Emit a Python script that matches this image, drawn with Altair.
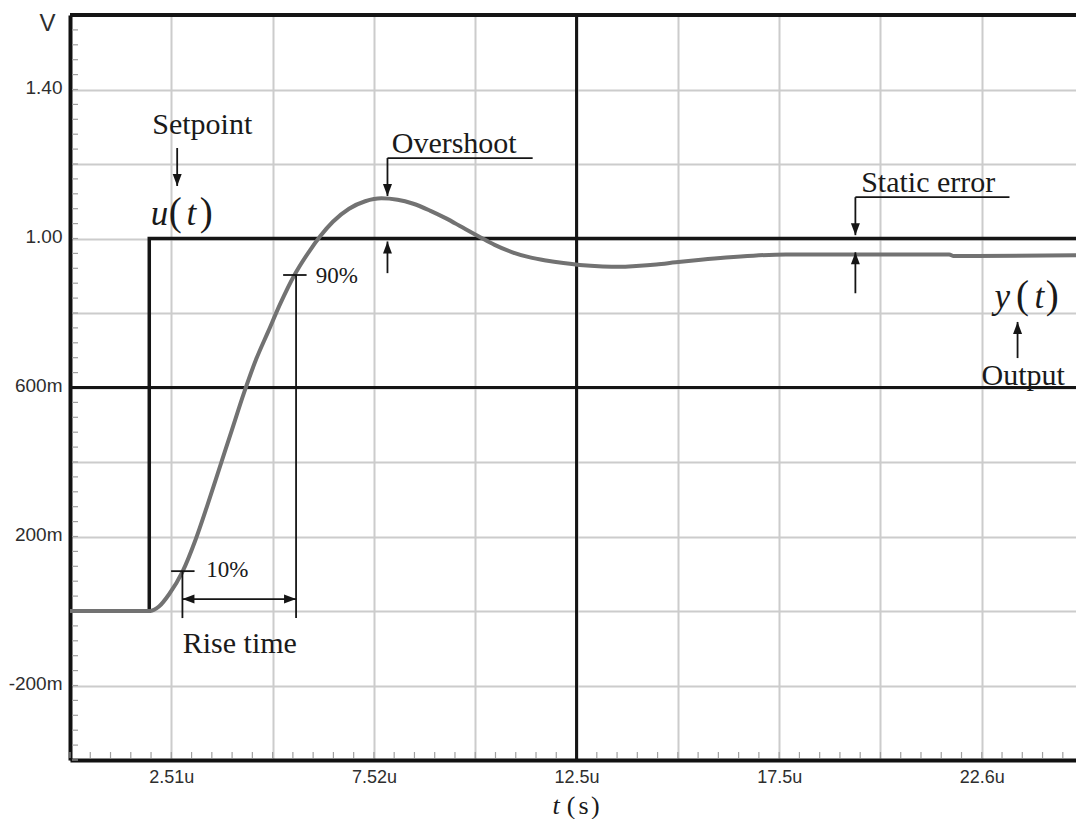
import altair as alt
import pandas as pd

# ---------------- axes ----------------
x_grid = [0.0, 2.505, 5.01, 7.515, 10.02, 12.525, 15.03, 17.535, 20.04, 22.545]
x_label_at = [2.505, 7.515, 12.525, 17.535, 22.545]
x_labels = ["2.51u", "7.52u", "12.5u", "17.5u", "22.6u"]
y_grid = [-0.4, -0.2, 0.0, 0.2, 0.4, 0.6, 0.8, 1.0, 1.2, 1.4, 1.6]
y_label_at = [-0.2, 0.2, 0.6, 1.0, 1.4]
y_labels = ["-200m", "200m", "600m", "1.00", "1.40"]
x_minor = [round(k * 0.501, 4) for k in range(50)]
y_minor = [round(-0.4 + k * 0.04, 4) for k in range(51)]

# ---------------- signals ----------------
t_u = [0.0, 1.96, 1.96, 25.05]
v_u = [0.0, 0.0, 1.0, 1.0]

t_y = [0.0, 1.96, 2.2, 2.45, 2.78, 3.1, 3.4, 3.7, 4.0, 4.3,
       4.6, 4.9, 5.2, 5.55, 5.9, 6.2, 6.5, 6.9, 7.3, 7.7,
       8.1, 8.47, 8.9, 9.3, 9.7, 10.12, 10.5, 10.94, 11.35, 11.77,
       12.2, 12.6, 13.17, 13.6, 14.0, 14.5, 14.98, 15.6, 16.22, 16.9,
       17.7, 21.74, 21.85, 25.05]
v_y = [0.0, 0.0, 0.012, 0.045, 0.105, 0.19, 0.285, 0.385, 0.485, 0.585,
       0.675, 0.75, 0.825, 0.902, 0.963, 1.008, 1.045, 1.08, 1.1, 1.108,
       1.104, 1.094, 1.075, 1.054, 1.03, 1.005, 0.983, 0.963, 0.95, 0.941,
       0.934, 0.929, 0.925, 0.924, 0.926, 0.93, 0.936, 0.943, 0.949, 0.954,
       0.957, 0.957, 0.953, 0.955]

# center lines of the scope screen
center_v = [0.6]
center_t = [12.525]

# ---------------- annotations ----------------
seg_t1 = [2.65, 7.85, 7.85, 7.85, 5.27, 5.59, 2.50, 2.78, 2.78, 19.42, 19.42, 19.42, 23.43]
seg_v1 = [1.243, 1.216, 1.216, 0.907, 0.902, 0.902, 0.107, 0.107, 0.032, 1.111, 1.111, 0.853, 0.679]
seg_t2 = [2.65, 11.44, 7.85, 7.85, 5.85, 5.59, 3.08, 2.78, 5.59, 23.23, 19.42, 19.42, 23.43]
seg_v2 = [1.141, 1.216, 1.114, 0.992, 0.902, -0.019, 0.107, -0.019, 0.032, 1.111, 1.009, 0.963, 0.776]

DOWN = "M0,0L-0.75,-2L0.75,-2Z"
UP = "M0,0L-0.75,2L0.75,2Z"
LEFT = "M0,0L2,-0.75L2,0.75Z"
RIGHT = "M0,0L-2,-0.75L-2,0.75Z"
head_t = [2.65, 7.85, 7.85, 2.78, 5.59, 19.42, 19.42, 23.43]
head_v = [1.141, 1.114, 0.992, 0.032, 0.032, 1.009, 0.963, 0.776]
head_dir = [DOWN, DOWN, UP, LEFT, RIGHT, DOWN, UP, UP]

lab_text = ["Setpoint", "Overshoot", "Static error", "Output", "Rise time", "90%", "10%"]
lab_t = [3.27, 9.50, 21.22, 23.57, 4.20, 6.60, 3.89]
lab_v = [1.280, 1.229, 1.125, 0.607, -0.113, 0.880, 0.091]
lab_size = [30, 30, 30, 30, 30, 23, 23]

ital_text = ["u", "t", "y", "t", "t"]
ital_t = [2.21, 3.00, 23.05, 23.97, 12.02]
ital_v = [1.036, 1.036, 0.813, 0.813, -0.545]
ital_size = [35, 35, 35, 35, 26]

up_text = ["(", ")", "(", ")", "(", "s", ")"]
up_t = [2.60, 3.37, 23.55, 24.29, 12.39, 12.70, 12.99]
up_v = [1.036, 1.036, 0.813, 0.813, -0.545, -0.545, -0.545]
up_size = [39, 39, 39, 39, 26, 26, 26]

# ---------------- build ----------------
W, H = 1006, 745
xs = alt.Scale(domain=[0, 24.875], nice=False, zero=False)
ys = alt.Scale(domain=[-0.4, 1.6], nice=False, zero=False)
SERIF = "Liberation Serif"
SANS = "Liberation Sans"


def label_expr(pos, labels):
    e = "''"
    for p, l in reversed(list(zip(pos, labels))):
        e = f"abs(datum.value - ({p})) < 0.001 ? '{l}' : ({e})"
    return e


x_axis = alt.Axis(values=x_grid, labelExpr=label_expr(x_label_at, x_labels), grid=True,
                  gridColor="#cccccc", gridWidth=2, ticks=False, tickSize=0,
                  domain=True, domainColor="#111111", domainWidth=4,
                  labelFont=SANS, labelFontSize=18, labelColor="#2e2e2e",
                  labelPadding=8, labelFlush=False, labelOverlap=False, title=None)
y_axis = alt.Axis(values=y_grid, labelExpr=label_expr(y_label_at, y_labels), grid=True,
                  gridColor="#cccccc", gridWidth=2, ticks=False, tickSize=0,
                  domain=True, domainColor="#111111", domainWidth=4,
                  labelFont=SANS, labelFontSize=19, labelColor="#2e2e2e",
                  labelPadding=8, labelFlush=False, labelOverlap=False, labelOffset=-2,
                  title="V", titleAngle=0, titleX=-23, titleY=15, titleAlign="center",
                  titleBaseline="alphabetic", titleFont=SANS, titleFontSize=24,
                  titleFontWeight="normal", titleColor="#2e2e2e")


def X(field):
    return alt.X(field, scale=xs, axis=x_axis)


def Y(field):
    return alt.Y(field, scale=ys, axis=y_axis)


u_df = pd.DataFrame({"t": t_u, "v": v_u, "o": list(range(len(t_u)))})
y_df = pd.DataFrame({"t": t_y, "v": v_y})

u_line = alt.Chart(u_df).mark_line(color="#151515", strokeWidth=3.5, strokeJoin="miter", clip=True).encode(
    x=X("t:Q"), y=Y("v:Q"), order="o:Q")

ymin_df = pd.DataFrame({"v": y_minor})
xmin_df = pd.DataFrame({"t": x_minor})
y_minor_ticks = alt.Chart(ymin_df).mark_rule(color="#a0a0a0", strokeWidth=1.2).encode(
    y=Y("v:Q"), x=alt.value(2), x2=alt.value(8))
x_minor_ticks = alt.Chart(xmin_df).mark_rule(color="#a0a0a0", strokeWidth=1.2).encode(
    x=X("t:Q"), y=alt.value(H - 2), y2=alt.value(H - 8))

hc = alt.Chart(pd.DataFrame({"v": center_v})).mark_rule(color="#151515", strokeWidth=3).encode(y=Y("v:Q"))
vc = alt.Chart(pd.DataFrame({"t": center_t})).mark_rule(color="#151515", strokeWidth=3).encode(x=X("t:Q"))
top_border = alt.Chart(pd.DataFrame({"v": [1.6]})).mark_rule(color="#151515", strokeWidth=4).encode(y=Y("v:Q"))

y_line = alt.Chart(y_df).mark_line(color="#727272", strokeWidth=4, interpolate="monotone", clip=True).encode(
    x=X("t:Q"), y=Y("v:Q"))

seg_df = pd.DataFrame({"t1": seg_t1, "v1": seg_v1, "t2": seg_t2, "v2": seg_v2})
segs = alt.Chart(seg_df).mark_rule(color="#151515", strokeWidth=1.8).encode(
    x=X("t1:Q"), y=Y("v1:Q"), x2="t2:Q", y2="v2:Q")

head_df = pd.DataFrame({"t": head_t, "v": head_v, "shape": head_dir})
heads = alt.Chart(head_df).mark_point(filled=True, color="#151515", opacity=1, size=144, strokeWidth=0).encode(
    x=X("t:Q"), y=Y("v:Q"), shape=alt.Shape("shape:N", scale=None, legend=None))

lab_df = pd.DataFrame({"t": lab_t, "v": lab_v, "text": lab_text, "size": lab_size})
labels = alt.Chart(lab_df).mark_text(font=SERIF, color="#1a1a1a", align="center", baseline="alphabetic").encode(
    x=X("t:Q"), y=Y("v:Q"), text="text:N", size=alt.Size("size:Q", scale=None, legend=None))

ital_df = pd.DataFrame({"t": ital_t, "v": ital_v, "text": ital_text, "size": ital_size})
ital = alt.Chart(ital_df).mark_text(font=SERIF, fontStyle="italic", color="#1a1a1a", align="center",
                                    baseline="alphabetic").encode(
    x=X("t:Q"), y=Y("v:Q"), text="text:N", size=alt.Size("size:Q", scale=None, legend=None))

up_df = pd.DataFrame({"t": up_t, "v": up_v, "text": up_text, "size": up_size})
upr = alt.Chart(up_df).mark_text(font=SERIF, color="#1a1a1a", align="center", baseline="alphabetic").encode(
    x=X("t:Q"), y=Y("v:Q"), text="text:N", size=alt.Size("size:Q", scale=None, legend=None))

chart = alt.layer(
    u_line, y_minor_ticks, x_minor_ticks, hc, vc, top_border, y_line,
    segs, heads, labels, ital, upr
).properties(
    width=W, height=H,
    autosize=alt.AutoSizeParams(type="none"),
    padding={"left": 62, "top": 7, "right": 0, "bottom": 59},
    background="white",
).configure_view(stroke="#151515", strokeWidth=1)

chart.save("out.html", embed_options={"renderer": "svg", "actions": False})
